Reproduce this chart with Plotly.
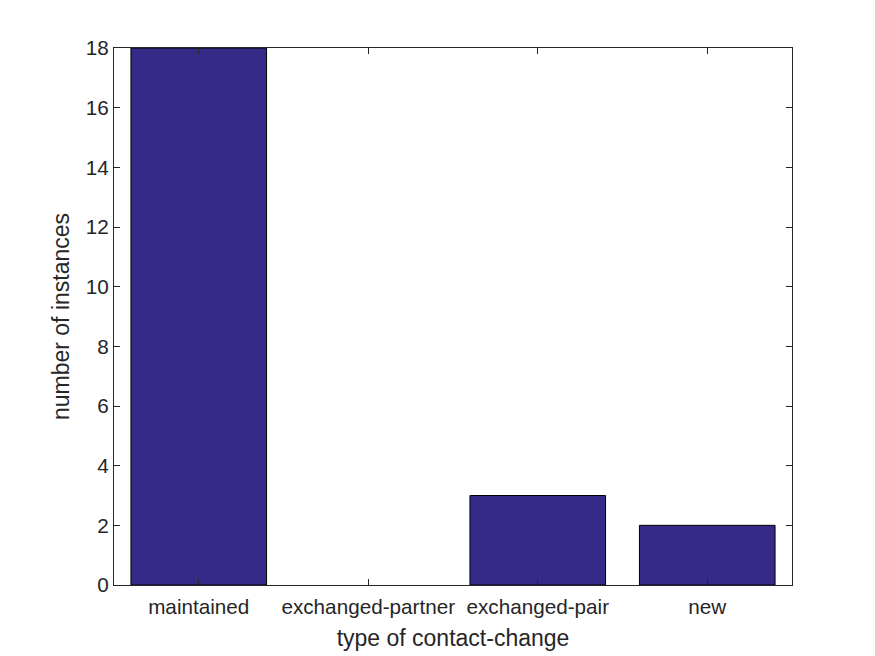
import plotly.graph_objects as go

categories = ["maintained", "exchanged-partner", "exchanged-pair", "new"]
counts = [18, 0, 3, 2]
y_ticks = [0, 2, 4, 6, 8, 10, 12, 14, 16, 18]

FONT = "Liberation Sans, Arial, sans-serif"

fig = go.Figure()
fig.add_trace(go.Bar(
    x=[1, 2, 3, 4], y=counts, width=0.8,
    marker=dict(color="#352A87",
                line=dict(color="#000000", width=[1 if c > 0 else 0 for c in counts])),
))

axis_common = dict(
    showline=True, linecolor="#262626", linewidth=1, mirror="ticks",
    ticks="inside", ticklen=6, tickcolor="#262626",
    showgrid=False, zeroline=False,
    tickfont=dict(family=FONT, size=20.7, color="#262626"),
)
fig.update_layout(
    width=875, height=656,
    margin=dict(l=106, r=91, t=40, b=79),
    paper_bgcolor="white", plot_bgcolor="white",
    showlegend=False,
    xaxis=dict(range=[0.5, 4.5], tickvals=[1, 2, 3, 4], ticktext=categories,
               ticklabelstandoff=3,
               title=dict(text="type of contact-change", standoff=13,
                          font=dict(family=FONT, size=23, color="#262626")),
               **axis_common),
    yaxis=dict(range=[0, 18], tickvals=y_ticks,
               title=dict(text="number of instances", standoff=9,
                          font=dict(family=FONT, size=23, color="#262626")),
               **axis_common),
)
fig.write_html("out.html")
